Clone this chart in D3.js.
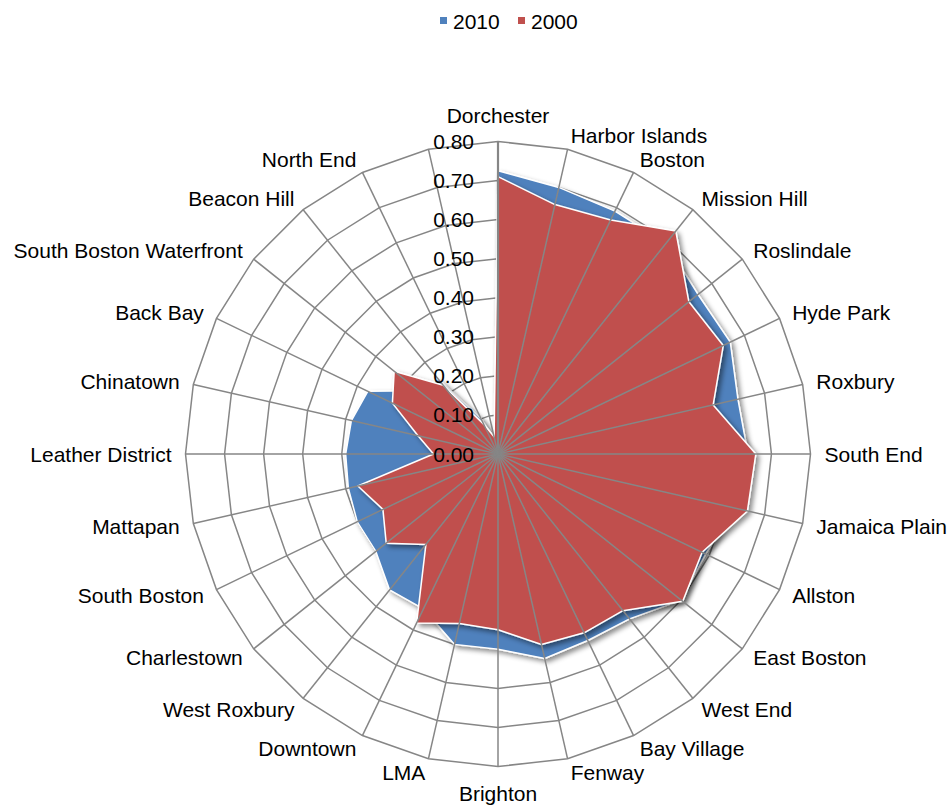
<!DOCTYPE html>
<html>
<head>
<meta charset="utf-8">
<script src="https://cdn.jsdelivr.net/npm/d3@7"></script>
<style>
  body { margin: 0; background: #fff; }
  text { font-family: "Liberation Sans", Arial, sans-serif; font-size: 21px; fill: #000; }
</style>
</head>
<body>
<div id="chart"></div>
<script>
// neighbourhoods, clockwise from the top (last spoke has no label in the original)
var categories = ["Dorchester", "Harbor Islands", "Boston", "Mission Hill", "Roslindale", "Hyde Park",
    "Roxbury", "South End", "Jamaica Plain", "Allston", "East Boston", "West End", "Bay Village",
    "Fenway", "Brighton", "LMA", "Downtown", "West Roxbury", "Charlestown", "South Boston",
    "Mattapan", "Leather District", "Chinatown", "Back Bay", "South Boston Waterfront",
    "Beacon Hill", "North End", ""];

var values2010 = [0.725, 0.70, 0.69, 0.69, 0.655, 0.66, 0.63, 0.64, 0.62, 0.59, 0.60, 0.54, 0.53,
    0.537, 0.50, 0.50, 0.44, 0.445, 0.40, 0.40, 0.393, 0.39, 0.385, 0.37, 0.26, 0.245, 0.10, 0.04];

var values2000 = [0.71, 0.655, 0.665, 0.73, 0.625, 0.64, 0.565, 0.66, 0.655, 0.58, 0.605, 0.513, 0.508,
    0.50, 0.45, 0.445, 0.48, 0.296, 0.366, 0.327, 0.368, 0.165, 0.21, 0.30, 0.34, 0.225, 0.085, 0.045];

var seriesNames = ["2010", "2000"];
var seriesColors = ["#4F81BD", "#C0504D"];
var tickValues = [0, 0.1, 0.2, 0.3, 0.4, 0.5, 0.6, 0.7, 0.8];

var width = 952, height = 805;
var cx = 498, cy = 454, R = 312.5;
var gridColor = "#868686";

var svg = d3.select("#chart").append("svg")
    .attr("width", width)
    .attr("height", height);

// drop shadow under the filled areas
var filter = svg.append("defs").append("filter")
    .attr("id", "shadow")
    .attr("x", "-10%").attr("y", "-10%")
    .attr("width", "120%").attr("height", "120%");
filter.append("feDropShadow")
    .attr("dx", 3).attr("dy", 3)
    .attr("stdDeviation", 2.5)
    .attr("flood-color", "#000")
    .attr("flood-opacity", 0.45);

var n = categories.length;
var angle = d3.scaleLinear().domain([0, n]).range([0, 2 * Math.PI]);
var r = d3.scaleLinear().domain([0, 0.8]).range([0, R]);

var g = svg.append("g").attr("transform", "translate(" + cx + "," + cy + ")");

// polygon rings
var ringLine = d3.lineRadial()
    .angle(function (d, i) { return angle(i); })
    .radius(function (d) { return r(d); })
    .curve(d3.curveLinearClosed);

g.selectAll(".ring")
    .data(tickValues.slice(1))
    .enter().append("path")
    .attr("d", function (t) { return ringLine(categories.map(function () { return t; })); })
    .attr("fill", "none")
    .attr("stroke", gridColor)
    .attr("stroke-width", 1.5);

// filled series, 2010 first so 2000 sits on top
var areaLine = d3.lineRadial()
    .angle(function (d, i) { return angle(i); })
    .radius(function (d) { return r(d); })
    .curve(d3.curveLinearClosed);

[values2010, values2000].forEach(function (vals, k) {
    g.append("path")
        .attr("d", areaLine(vals))
        .attr("fill", seriesColors[k])
        .attr("stroke", "#fff")
        .attr("stroke-width", 1.5)
        .attr("stroke-linejoin", "round")
        .attr("filter", "url(#shadow)");
});

// spokes on top of the fills
g.selectAll(".spoke")
    .data(categories)
    .enter().append("line")
    .attr("x1", 0).attr("y1", 0)
    .attr("x2", function (d, i) { return r(0.8) * Math.sin(angle(i)); })
    .attr("y2", function (d, i) { return -r(0.8) * Math.cos(angle(i)); })
    .attr("stroke", gridColor)
    .attr("stroke-width", function (d, i) { return i === 0 ? 2.2 : 1.5; });

// category labels
g.selectAll(".cat")
    .data(categories)
    .enter().append("text")
    .attr("x", function (d, i) { return (R + 14) * Math.sin(angle(i)); })
    .attr("y", function (d, i) {
        var c = Math.cos(angle(i)), s = Math.sin(angle(i));
        var y = -(R + 14) * c;
        if (Math.abs(s) < 0.01) y -= c * 12.5;
        return y;
    })
    .attr("dominant-baseline", "central")
    .attr("text-anchor", function (d, i) {
        var s = Math.sin(angle(i));
        return Math.abs(s) < 0.01 ? "middle" : (s > 0 ? "start" : "end");
    })
    .text(function (d) { return d; });

// value axis labels
g.selectAll(".tick")
    .data(tickValues)
    .enter().append("text")
    .attr("x", -24)
    .attr("y", function (d) { return -r(d); })
    .attr("dominant-baseline", "central")
    .attr("text-anchor", "end")
    .text(d3.format(".2f"));

// legend
var legend = svg.append("g");
var legendX = [440, 518];
seriesNames.forEach(function (name, k) {
    legend.append("rect")
        .attr("x", legendX[k]).attr("y", 17)
        .attr("width", 7).attr("height", 7)
        .attr("fill", seriesColors[k]);
    legend.append("text")
        .attr("x", legendX[k] + 13).attr("y", 21)
        .attr("dominant-baseline", "central")
        .text(name);
});
</script>
</body>
</html>
